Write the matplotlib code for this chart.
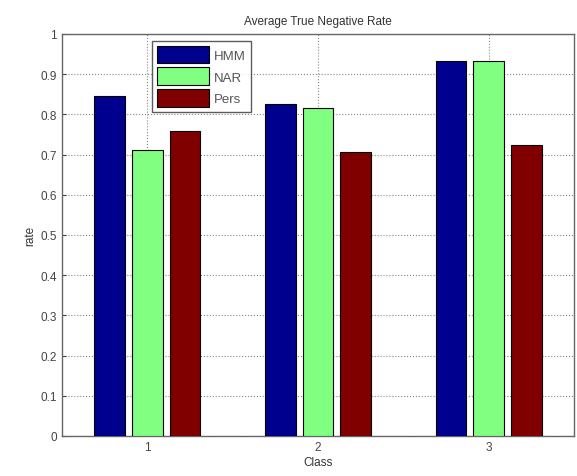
import numpy as np
import matplotlib
matplotlib.use("Agg")
import matplotlib.pyplot as plt

classes = [1, 2, 3]
series_names = ["HMM", "NAR", "Pers"]
hmm = [0.846, 0.827, 0.932]
nar = [0.711, 0.815, 0.932]
pers = [0.758, 0.706, 0.723]
colors = ["#00008F", "#80FF80", "#800000"]
yticks = [0, 0.1, 0.2, 0.3, 0.4, 0.5, 0.6, 0.7, 0.8, 0.9, 1]
ytick_labels = ["0", "0.1", "0.2", "0.3", "0.4", "0.5", "0.6", "0.7", "0.8", "0.9", "1"]

plt.rcParams["font.family"] = ["Liberation Sans", "DejaVu Sans"]

fig = plt.figure(figsize=(5.77, 4.77), dpi=100)
ax = fig.add_axes([62 / 577, 1 - 437 / 477, 512 / 577, 402 / 477])

x = np.array(classes, dtype=float)
width = 0.18
offsets = [-0.22, 0.0, 0.22]
for vals, off, col, name in zip([hmm, nar, pers], offsets, colors, series_names):
    ax.bar(x + off, vals, width, color=col, edgecolor="black", linewidth=0.8,
           label=name, zorder=3)

ax.set_xlim(0.5, 3.5)
ax.set_ylim(0, 1)
ax.set_xticks(classes)
ax.set_xticklabels([str(c) for c in classes])
ax.set_yticks(yticks)
ax.set_yticklabels(ytick_labels)
ax.tick_params(direction="in", labelsize=8.5, colors="#444444", length=3)
ax.grid(True, linestyle=":", color="#888888", linewidth=0.8, zorder=0)
for s in ax.spines.values():
    s.set_color("#666666")
    s.set_linewidth(1.0)

ax.set_title("Average True Negative Rate", fontsize=8.5, color="#333333", pad=7)
ax.set_xlabel("Class", fontsize=8.5, color="#333333", labelpad=2)
ax.set_ylabel("rate", fontsize=8.5, color="#333333", labelpad=3)

leg = ax.legend(loc="upper left", bbox_to_anchor=((152 - 62) / 512, (437 - 42) / 402),
                fontsize=9.5, frameon=True, fancybox=False, borderaxespad=0,
                handlelength=4.0, handleheight=1.7, labelspacing=0.3,
                handletextpad=0.35, borderpad=0.35)
leg.get_frame().set_edgecolor("#333333")
leg.get_frame().set_linewidth(1.0)
for t in leg.get_texts():
    t.set_color("#555555")

fig.savefig("out.png", dpi=100)
